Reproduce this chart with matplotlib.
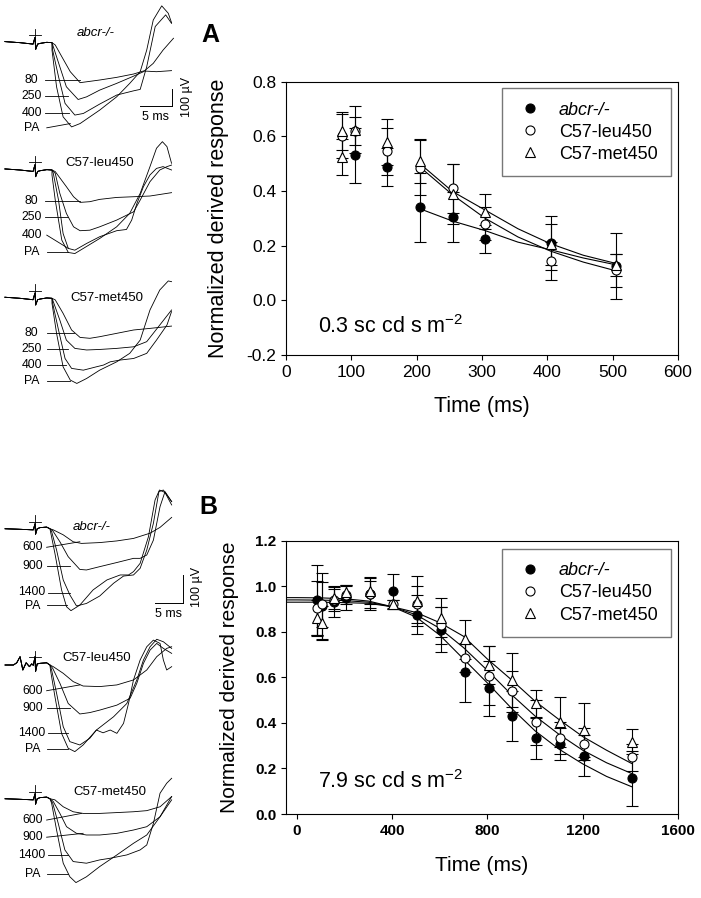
import matplotlib
matplotlib.use('Agg')
import matplotlib.pyplot as plt

plt.rcParams['font.family'] = 'Liberation Sans'
plt.rcParams['mathtext.fontset'] = 'custom'
plt.rcParams['mathtext.rm'] = 'Liberation Sans'

W, H = 701, 898

# ---------------- panel A (0.3 sc cd s m-2) ----------------
a_abcr_x = [105, 155, 205, 255, 305, 405, 505]
a_abcr_y = [0.53, 0.487, 0.34, 0.305, 0.225, 0.21, 0.125]
a_abcr_e = [0.10, 0.07, 0.125, 0.09, 0.05, 0.10, 0.12]
a_leu_x = [85, 105, 155, 205, 255, 305, 405, 505]
a_leu_y = [0.60, 0.62, 0.545, 0.485, 0.41, 0.28, 0.145, 0.11]
a_leu_e = [0.08, 0.05, 0.085, 0.10, 0.09, 0.06, 0.07, 0.06]
a_met_x = [85, 85, 105, 155, 205, 255, 305, 405, 505]
a_met_y = [0.62, 0.525, 0.625, 0.58, 0.51, 0.39, 0.325, 0.205, 0.13]
a_met_e = [0.07, 0.065, 0.085, 0.085, 0.08, 0.11, 0.065, 0.075, 0.04]

a_fit_x = [205, 255, 305, 355, 405, 455, 505]
a_fit_abcr = [0.335, 0.29, 0.255, 0.213, 0.185, 0.155, 0.13]
a_fit_leu = [0.488, 0.386, 0.30, 0.232, 0.18, 0.14, 0.108]
a_fit_met = [0.50, 0.398, 0.33, 0.262, 0.207, 0.165, 0.135]

# ---------------- panel B (7.9 sc cd s m-2) ----------------
b_x = [85, 105, 155, 205, 305, 405, 505, 605, 705, 805, 905, 1005, 1105, 1205, 1405]
b_abcr_y = [0.94, 0.915, 0.93, 0.95, 0.965, 0.98, 0.875, 0.81, 0.623, 0.552, 0.432, 0.332, 0.306, 0.256, 0.157]
b_abcr_e = [0.155, 0.145, 0.065, 0.055, 0.07, 0.075, 0.085, 0.10, 0.13, 0.12, 0.11, 0.09, 0.07, 0.09, 0.12]
b_leu_y = [0.905, 0.92, 0.94, 0.96, 0.965, 0.92, 0.92, 0.828, 0.685, 0.607, 0.54, 0.402, 0.335, 0.306, 0.249]
b_leu_e = [0.12, 0.10, 0.05, 0.04, 0.06, 0.02, 0.08, 0.08, 0.06, 0.13, 0.09, 0.10, 0.07, 0.07, 0.06]
b_met_y = [0.86, 0.84, 0.95, 0.975, 0.98, 0.92, 0.935, 0.862, 0.767, 0.654, 0.588, 0.486, 0.405, 0.369, 0.317]
b_met_e = [0.08, 0.075, 0.05, 0.03, 0.06, 0.02, 0.11, 0.085, 0.085, 0.085, 0.12, 0.06, 0.11, 0.12, 0.055]

b_fit_x = [-46, 0, 100, 200, 300, 400, 500, 600, 700, 800, 900, 1000, 1100, 1200, 1300, 1405]
b_fit_abcr = [0.95, 0.95, 0.949, 0.945, 0.935, 0.91, 0.865, 0.785, 0.68, 0.575, 0.465, 0.365, 0.285, 0.22, 0.165, 0.12]
b_fit_leu = [0.94, 0.94, 0.939, 0.937, 0.93, 0.91, 0.875, 0.815, 0.73, 0.63, 0.525, 0.43, 0.35, 0.28, 0.225, 0.178]
b_fit_met = [0.93, 0.93, 0.93, 0.928, 0.925, 0.91, 0.885, 0.84, 0.78, 0.68, 0.59, 0.495, 0.415, 0.34, 0.28, 0.222]

# ---------------- ERG traces (ms after flash, uV) ----------------
pre_a = [(-4.6, 6), (-2.3, 0), (-0.3, -8), (0, 30), (0.1, -38), (0.4, -8), (0.8, -4), (1.8, 2), (2.6, 0)]
pre_b = [(-5.4, 2), (-2.7, 0), (-0.3, -2), (0, 20), (0.1, -18), (0.4, 2), (0.9, 6), (2.1, 8), (2.7, 2)]
pre_b_leu = [(-5.4, 0), (-3.9, 0), (-3.3, 8), (-2.7, 30), (-2.2, -18), (-1.6, 8), (-1.0, -6), (-0.6, 4),
             (-0.3, -1), (0, 30), (0.1, -24), (0.4, 4), (0.9, 6), (2.1, 8), (2.7, 0)]

a1_80 = [(3.1, -13), (4.1, -79), (5.4, -164), (6.9, -226), (7.9, -221), (9.9, -211), (12.5, -196),
         (15.1, -177), (16.6, -160), (18.6, -164), (20.9, -158)]
a1_250 = [(2.8, -23), (3.8, -136), (4.8, -249), (6.6, -321), (7.9, -306), (9.9, -268), (12.5, -230),
          (15.1, -189), (16.6, -164), (18.1, -117), (19.6, -42), (21.2, 25)]
a1_400 = [(2.7, -42), (3.6, -192), (4.6, -343), (6.1, -409), (7.4, -400), (9.9, -347), (12.5, -296),
          (15.1, -272), (16.1, -264), (17.1, -136), (18.4, 91), (20.0, 157), (20.9, 109)]
a1_pa = [(2.6, -42), (3.3, -249), (4.3, -419), (5.6, -476), (6.9, -457), (9.9, -381), (12.5, -306),
         (14.5, -230), (16.1, -164), (17.1, -42), (18.1, 128), (19.4, 208), (20.4, 166), (20.9, 113)]

a2_80 = [(3.1, -9), (4.8, -94), (5.9, -151), (6.9, -183), (8.4, -179), (9.9, -166), (12.5, -155),
         (15.1, -151), (17.6, -147), (20.9, -128)]
a2_250 = [(3.1, -19), (3.8, -132), (4.8, -245), (5.9, -321), (6.9, -343), (8.4, -340), (9.9, -321),
          (12.5, -283), (15.1, -236), (16.1, -170), (17.6, -66), (19.1, 0), (20.2, 19), (20.9, 28)]
a2_400 = [(2.8, -19), (3.6, -170), (4.3, -359), (5.1, -443), (6.1, -453), (7.9, -415), (9.9, -377),
          (12.5, -343), (14.0, -336), (14.8, -283), (15.6, -189), (16.6, -94), (17.6, -28), (18.6, 9),
          (19.6, 19), (20.9, 0)]
a2_pa = [(2.6, -28), (3.1, -170), (4.1, -396), (5.1, -466), (6.1, -472), (7.4, -443), (9.9, -387),
         (12.5, -321), (14.5, -245), (16.1, -132), (17.6, 19), (18.6, 123), (19.5, 160), (20.2, 132),
         (20.9, 38)]

a3_80 = [(3.1, -9), (4.3, -85), (5.6, -179), (6.9, -221), (8.4, -226), (9.9, -217), (12.5, -198),
         (15.1, -179), (17.6, -170), (20.9, -157)]
a3_250 = [(2.8, -19), (3.8, -123), (4.8, -236), (6.1, -283), (7.9, -292), (9.9, -289), (12.5, -283),
          (15.1, -274), (17.1, -245), (19.1, -151), (20.9, -66)]
a3_400 = [(2.7, -28), (3.6, -179), (4.6, -340), (5.6, -396), (7.4, -406), (9.4, -387), (10.5, -377),
          (11.5, -359), (13.0, -349), (15.1, -340), (17.1, -311), (18.6, -236), (20.2, -151), (20.9, -75)]
a3_pa = [(2.6, -28), (3.3, -198), (4.3, -387), (5.4, -462), (6.4, -481), (7.9, -453), (9.9, -406),
         (12.5, -359), (14.5, -311), (16.1, -236), (17.6, -66), (19.1, 47), (20.4, 98), (20.9, 94)]

b1_600 = [(3.3, -2), (5.1, -20), (6.9, -45), (8.4, -51), (11.7, -48), (14.8, -42), (17.8, -33),
          (20.8, -14), (22.6, 7), (24.7, 43)]
b1_900 = [(3.2, -5), (4.5, -45), (6.0, -99), (8.1, -145), (9.3, -147), (11.7, -135), (14.8, -120),
          (17.8, -105), (19.0, -105), (20.2, -93), (21.4, -39), (22.6, 82), (23.5, 136), (24.7, 100)]
b1_1400 = [(3.0, -8), (3.9, -75), (5.1, -183), (6.3, -237), (7.5, -277), (9.3, -268), (11.7, -241),
           (14.2, -195), (16.0, -169), (17.8, -165), (19.0, -141), (20.2, -75), (21.4, 22), (22.4, 136),
           (23.2, 142), (24.7, 100)]
b1_pa = [(2.8, -8), (3.6, -87), (4.8, -219), (5.7, -280), (6.5, -294), (8.1, -274), (10.5, -219),
         (13.0, -183), (15.4, -165), (16.9, -165), (17.8, -153), (19.0, -123), (20.5, -27), (21.7, 106),
         (22.5, 142), (23.5, 133), (24.7, 88)]

b2_600 = [(3.3, -6), (5.1, -30), (6.9, -60), (8.7, -76), (11.7, -78), (14.8, -72), (17.8, -54),
          (20.2, -18), (22.0, 30), (23.8, 60), (24.7, 66)]
b2_900 = [(3.2, -12), (4.5, -66), (6.0, -139), (8.1, -177), (9.9, -172), (11.7, -163), (14.8, -145),
          (17.2, -120), (18.4, -66), (19.6, 6), (20.8, 54), (22.0, 78), (23.2, 60), (24.7, 42)]
b2_1400 = [(3.0, -18), (3.9, -102), (5.1, -223), (6.3, -277), (8.1, -289), (9.9, -265), (11.1, -235),
           (12.3, -245), (13.6, -235), (14.8, -247), (16.0, -211), (16.9, -139), (17.8, -54), (19.0, 18),
           (20.2, 66), (21.4, 90), (22.6, 78), (23.2, 18), (23.8, -18), (24.7, -6)]
b2_pa = [(2.8, -18), (3.6, -114), (4.8, -247), (6.0, -301), (7.2, -313), (8.7, -289), (11.1, -235),
         (14.2, -187), (16.6, -139), (18.4, -54), (19.6, 18), (20.8, 66), (22.0, 93), (23.2, 84), (24.7, 60)]

b3_600 = [(3.6, -2), (5.1, -27), (6.9, -45), (8.7, -51), (11.7, -51), (14.8, -48), (17.8, -45),
          (20.2, -41), (22.6, -27), (24.7, 10)]
b3_900 = [(3.3, -8), (4.5, -51), (5.7, -99), (7.5, -123), (9.3, -129), (11.7, -129), (14.8, -123),
          (17.8, -111), (20.2, -99), (22.6, -63), (24.7, -2)]
b3_1400 = [(3.2, -14), (4.2, -87), (5.4, -183), (6.9, -225), (9.3, -231), (11.7, -219), (13.6, -213),
           (16.6, -201), (19.0, -183), (20.2, -165), (21.4, -87), (22.6, 22), (23.8, 58), (24.7, 76)]
b3_pa = [(3.0, -14), (3.9, -111), (5.1, -231), (6.3, -280), (7.4, -301), (9.3, -280), (11.7, -243),
         (14.8, -201), (17.8, -159), (20.2, -129), (22.6, -63), (24.7, 10)]

labels_a = ['80', '250', '400', 'PA']
labels_b = ['600', '900', '1400', 'PA']


def px_axes(box):
    x0, y0, x1, y1 = box
    return fig.add_axes([x0 / W, 1 - y1 / H, (x1 - x0) / W, (y1 - y0) / H])


def trace_group(box, flash_x, base_y, px_ms, px_uv, pre, traces, labels, tags, name, name_pos, italic,
                lab_x):
    ax = px_axes(box)
    x0, y0, x1, y1 = box
    ax.set_xlim((x0 - flash_x) / px_ms, (x1 - flash_x) / px_ms)
    ax.set_ylim((base_y - y1) / px_uv, (base_y - y0) / px_uv)
    ax.axis('off')
    for tr in traces:
        pts = pre + tr
        ax.plot([p[0] for p in pts], [p[1] for p in pts], color='black', lw=0.6)
    # stimulus marker
    top = 14 / px_uv
    ax.plot([0, 0], [1.5 / px_uv, top], color='black', lw=0.6)
    ax.plot([-2.8 / px_ms * 2, 2.8 / px_ms * 2], [top * 0.55, top * 0.55], color='black', lw=0.6)
    for lab, (ty, p0, p1) in zip(labels, tags):
        ax.text(lab_x, ty, lab, ha='center', va='center', fontsize=8.8)
        ax.plot([p0[0], p1[0]], [p0[1], p1[1]], color='black', lw=0.6)
    ax.text(name_pos[0], name_pos[1], name, ha='center', va='center', fontsize=9.5,
            style='italic' if italic else 'normal')
    return ax


fig = plt.figure(figsize=(W / 100, H / 100), dpi=100)

# ---- traces, panel A ----
pxa_ms, pxa_uv = 6.533, 0.177
pxb_ms, pxb_uv = 5.533, 0.2767

tags_a1 = [(-211, (1.5, -211), (6.9, -211)), (-300, (1.5, -300), (5.1, -300)),
           (-396, (1.5, -396), (5.2, -396)), (-481, (1.8, -481), (5.4, -457))]
tags_a2 = [(-177, (1.5, -177), (6.9, -177)), (-264, (1.5, -264), (5.1, -264)),
           (-368, (1.8, -368), (5.1, -443)), (-466, (1.8, -466), (5.1, -466))]
tags_a3 = [(-194, (1.8, -194), (5.9, -194)), (-289, (1.8, -289), (5.1, -289)),
           (-377, (1.8, -377), (4.8, -377)), (-466, (1.8, -466), (5.4, -466))]

ax1 = trace_group((0, 0, 200, 140), 35, 42.67, pxa_ms, pxa_uv, pre_a, [a1_80, a1_250, a1_400, a1_pa],
                  labels_a, tags_a1, 'abcr-/-', (9.3, 53), True, -0.5)
ax1.plot([21.0, 21.0], [-259, -359], color='black', lw=0.7)
ax1.plot([16.0, 21.0], [-359, -359], color='black', lw=0.7)
ax1.text(18.5, -419, '5 ms', ha='center', va='center', fontsize=9)
ax1.text(23.2, -309, '100 µV', ha='center', va='center', fontsize=9, rotation=90)

trace_group((0, 125, 200, 270), 35, 170, pxa_ms, pxa_uv, pre_a, [a2_80, a2_250, a2_400, a2_pa],
            labels_a, tags_a2, 'C57-leu450', (9.9, 38), False, -0.5)
trace_group((0, 250, 200, 400), 35, 298.3, pxa_ms, pxa_uv, pre_a, [a3_80, a3_250, a3_400, a3_pa],
            labels_a, tags_a3, 'C57-met450', (11.0, 4), False, -0.5)

# ---- traces, panel B ----
tags_b1 = [(-65, (2.1, -65), (8.1, -45)), (-134, (2.1, -134), (6.4, -134)),
           (-228, (2.4, -232), (6.3, -232)), (-276, (2.1, -272), (5.7, -272))]
tags_b2 = [(-93, (2.1, -93), (8.1, -72)), (-154, (2.1, -154), (6.3, -154)),
           (-247, (2.4, -247), (6.0, -247)), (-305, (2.1, -305), (6.0, -305))]
tags_b3 = [(-75, (2.1, -75), (8.4, -51)), (-137, (2.1, -137), (8.7, -123)),
           (-201, (2.4, -201), (6.0, -201)), (-270, (2.1, -270), (6.0, -270))]

axb1 = trace_group((0, 480, 205, 620), 35, 529.3, pxb_ms, pxb_uv, pre_b, [b1_600, b1_900, b1_1400, b1_pa],
                   labels_b, tags_b1, 'abcr-/-', (10.2, 7), True, -0.5)
axb1.plot([26.7, 26.7], [-165, -265], color='black', lw=0.7)
axb1.plot([21.7, 26.7], [-265, -265], color='black', lw=0.7)
axb1.text(24.1, -307, '5 ms', ha='center', va='center', fontsize=9)
axb1.text(29.3, -207, '100 µV', ha='center', va='center', fontsize=9, rotation=90)

trace_group((0, 615, 205, 760), 35, 665, pxb_ms, pxb_uv, pre_b_leu, [b2_600, b2_900, b2_1400, b2_pa],
            labels_b, tags_b2, 'C57-leu450', (11.1, 24), False, -0.5)
trace_group((0, 750, 205, 898), 35, 799.3, pxb_ms, pxb_uv, pre_b, [b3_600, b3_900, b3_1400, b3_pa],
            labels_b, tags_b3, 'C57-met450', (13.6, 28), False, -0.5)


# ---- summary plots ----
def summary(ax, series, fits, fit_x):
    for (x, y, e, style) in series:
        ax.errorbar(x, y, yerr=e, fmt='none', ecolor='black', elinewidth=0.8, capsize=4.2,
                    capthick=0.8, zorder=2)
    for fy in fits:
        ax.plot(fit_x, fy, color='black', lw=0.8, zorder=3)
    handles = []
    for (x, y, e, style) in series:
        h, = ax.plot(x, y, ls='none', zorder=4, **style)
        handles.append(h)
    for s in ax.spines.values():
        s.set_linewidth(0.8)
    ax.tick_params(direction='out', length=3.5, width=0.8, top=False, right=False)
    return handles


def add_legend(ax, handles, anchor):
    leg = ax.legend(handles, names, loc='upper right', bbox_to_anchor=anchor, fancybox=False,
                    edgecolor='#555555', fontsize=13, handlelength=1.6, handletextpad=0.8,
                    borderpad=0.75, labelspacing=0.28, borderaxespad=0)
    leg.get_frame().set_linewidth(1.0)
    leg.get_texts()[0].set_style('italic')
    return leg


st_abcr = dict(marker='o', ms=6.5, mfc='black', mec='black', mew=0.8)
st_leu = dict(marker='o', ms=6.5, mfc='white', mec='black', mew=0.8)
st_met = dict(marker='^', ms=7, mfc='white', mec='black', mew=0.8)
names = ['abcr-/-', 'C57-leu450', 'C57-met450']

axA = px_axes((286, 81.7, 678, 355))
hA = summary(axA, [(a_abcr_x, a_abcr_y, a_abcr_e, st_abcr), (a_leu_x, a_leu_y, a_leu_e, st_leu),
                   (a_met_x, a_met_y, a_met_e, st_met)],
             [a_fit_abcr, a_fit_leu, a_fit_met], a_fit_x)
axA.set_xlim(0, 600)
axA.set_ylim(-0.2, 0.8)
axA.set_xticks([0, 100, 200, 300, 400, 500, 600])
axA.set_yticks([-0.2, 0.0, 0.2, 0.4, 0.6, 0.8])
axA.set_yticklabels(['-0.2', '0.0', '0.2', '0.4', '0.6', '0.8'])
axA.tick_params(labelsize=12.5)
axA.set_xlabel('Time (ms)', fontsize=15.5)
axA.set_ylabel('Normalized derived response', fontsize=15.5)
axA.xaxis.set_label_coords(0.5, -0.15)
axA.yaxis.set_label_coords(-(286 - 229) / 392, 0.5)
axA.text(49, -0.12, r'0.3 sc cd s m$^{\mathregular{-2}}$', fontsize=15.5, ha='left', va='baseline')
add_legend(axA, hA, (0.982, 0.977))

axB = px_axes((286, 540.7, 678, 814))
hB = summary(axB, [(b_x, b_abcr_y, b_abcr_e, st_abcr), (b_x, b_leu_y, b_leu_e, st_leu),
                   (b_x, b_met_y, b_met_e, st_met)],
             [b_fit_abcr, b_fit_leu, b_fit_met], b_fit_x)
axB.set_xlim(-46, 1600)
axB.set_ylim(0, 1.2)
axB.set_xticks([0, 400, 800, 1200, 1600])
axB.set_yticks([0.0, 0.2, 0.4, 0.6, 0.8, 1.0, 1.2])
axB.set_yticklabels(['0.0', '0.2', '0.4', '0.6', '0.8', '1.0', '1.2'])
axB.tick_params(labelsize=11)
for t in axB.get_xticklabels() + axB.get_yticklabels():
    t.set_fontweight('bold')
axB.set_xlabel('Time (ms)', fontsize=15)
axB.set_ylabel('Normalized derived response', fontsize=15)
axB.xaxis.set_label_coords(0.5, -0.155)
axB.yaxis.set_label_coords(-(286 - 239) / 392, 0.5)
axB.text(88, 0.114, r'7.9 sc cd s m$^{\mathregular{-2}}$', fontsize=15.5, ha='left', va='baseline')
add_legend(axB, hB, (0.982, 0.970))

fig.text(210 / W, 1 - 35 / H, 'A', fontsize=18, fontweight='bold', ha='center', va='center')
fig.text(208 / W, 1 - 507 / H, 'B', fontsize=18, fontweight='bold', ha='center', va='center')

fig.savefig('out.png', dpi=100)
